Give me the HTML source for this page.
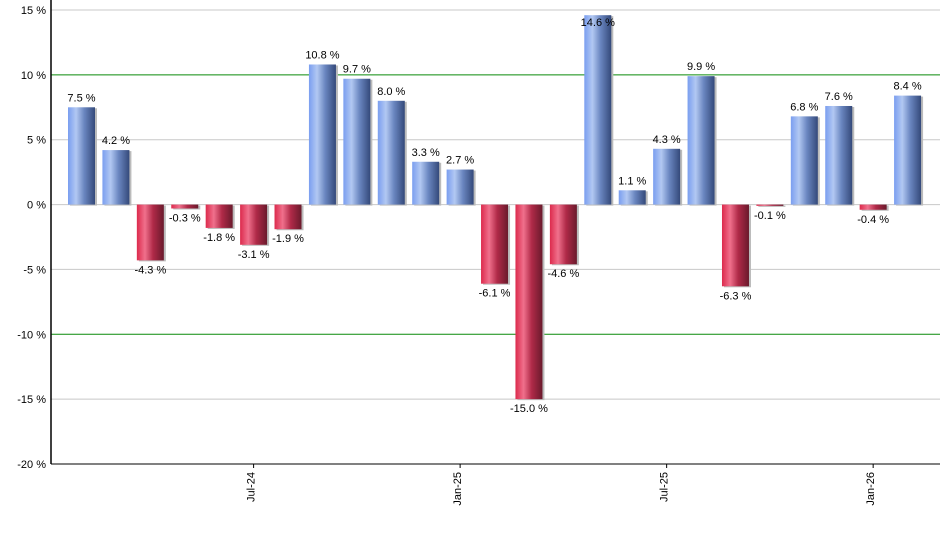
<!DOCTYPE html>
<html><head><meta charset="utf-8"><style>
body{margin:0;background:#fff;}
svg{display:block;font-family:"Liberation Sans",sans-serif;}
</style></head><body>
<svg id="chart" width="940" height="550">
<defs>
<linearGradient id="gb" x1="0" x2="1" y1="0" y2="0">
<stop offset="0" stop-color="#7a9ef0"/><stop offset="0.3" stop-color="#b2c8f2"/><stop offset="0.6" stop-color="#6a86c0"/><stop offset="1" stop-color="#34497a"/></linearGradient>
<linearGradient id="gr" x1="0" x2="1" y1="0" y2="0">
<stop offset="0" stop-color="#dc2a4c"/><stop offset="0.3" stop-color="#f0708c"/><stop offset="0.6" stop-color="#b02a48"/><stop offset="1" stop-color="#6a1a2c"/></linearGradient>
</defs>
<g id="grid"></g><g id="bars"></g><g id="labels"></g>
</svg>
<script>
const categories=["Feb-24","Mar-24","Apr-24","May-24","Jun-24","Jul-24","Aug-24","Sep-24","Oct-24","Nov-24","Dec-24","Jan-25","Feb-25","Mar-25","Apr-25","May-25","Jun-25","Jul-25","Aug-25","Sep-25","Oct-25","Nov-25","Dec-25","Jan-26","Feb-26"];
const values=[7.5,4.2,-4.3,-0.3,-1.8,-3.1,-1.9,10.8,9.7,8.0,3.3,2.7,-6.1,-15.0,-4.6,14.6,1.1,4.3,9.9,-6.3,-0.1,6.8,7.6,-0.4,8.4];
const yTicks=[15,10,5,0,-5,-10,-15,-20];
const xTickLabels=["Jul-24","Jan-25","Jul-25","Jan-26"];
const NS="http://www.w3.org/2000/svg";
const yMin=-20,yMax=15,plotTop=10,plotBot=464,plotLeft=51,plotRight=940;
const y=v=>plotTop+(yMax-v)/(yMax-yMin)*(plotBot-plotTop);
const x0=81.5,step=34.42,bw=27;
const x=i=>x0+i*step;
function mk(tag,attrs,parent){const e=document.createElementNS(NS,tag);for(const k in attrs)e.setAttribute(k,attrs[k]);parent.appendChild(e);return e;}
const grid=document.getElementById('grid'),bars=document.getElementById('bars'),labels=document.getElementById('labels');
yTicks.forEach(t=>{
  const g=(t===10||t===-10);
  const l=mk('line',{x1:plotLeft,x2:plotRight,y1:y(t),y2:y(t),stroke:g?'#0a8a0a':'#c8c8c8','stroke-width':1},grid);
  
  
  const tx=mk('text',{x:46,y:y(t)+4,'text-anchor':'end','font-size':11,fill:'#000'},labels);
  tx.textContent=t+' %';
  
  
});
const ax=mk('line',{x1:plotLeft,x2:plotLeft,y1:0,y2:plotBot,stroke:'#000','stroke-width':1.5},grid);


const bx=mk('line',{x1:plotLeft,x2:plotRight,y1:plotBot,y2:plotBot,stroke:'#000','stroke-width':1},grid);


values.forEach((v,i)=>{
  const cx=x(i),y1=y(Math.max(v,0)),y2=y(Math.min(v,0));
  const sh=mk('rect',{x:cx-bw/2+2,y:y1+1,width:bw,height:Math.max(y2-y1,1),fill:'#bbb'},bars);
  
  
  const r=mk('rect',{x:cx-bw/2,y:y1,width:bw,height:Math.max(y2-y1,1),fill:v>=0?'url(#gb)':'url(#gr)'},bars);
  
  
  let ly=v>=0?y1-6:y2+13;
  if(ly<12) ly=y1+11;
  const t=mk('text',{x:cx,y:ly,'text-anchor':'middle','font-size':11,fill:'#000'},labels);
  t.textContent=v.toFixed(1)+' %';
  
  
});
xTickLabels.forEach(lb=>{
  const i=categories.indexOf(lb),cx=x(i);
  const tk=mk('line',{x1:cx,x2:cx,y1:plotBot,y2:plotBot+4,stroke:'#000'},grid);
  
  
  const t=mk('text',{x:0,y:0,'text-anchor':'end','font-size':11,fill:'#000',transform:`translate(${cx+1},${plotBot+8}) rotate(-90)`},labels);
  t.textContent=lb;
  
  
});
</script>
</body></html>
